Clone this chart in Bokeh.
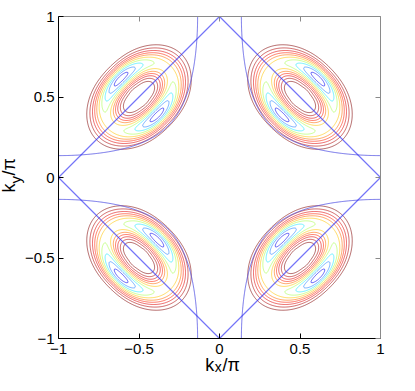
import numpy as np
from bokeh.plotting import figure
from bokeh.models import Range1d, LinearAxis, FixedTicker, Label
from bokeh.embed import file_html
from bokeh.resources import INLINE

# ---- axis ticks ----
tick_values = [-1, -0.5, 0, 0.5, 1]
tick_labels = ["\u22121", "\u22120.5", "0", "0.5", "1"]

# ---- ring-shaped pockets (one per quadrant) ----
pocket_cx = [-0.5, 0.5, -0.5, 0.5]
pocket_cy = [0.5, 0.5, -0.5, -0.5]
pocket_angle_deg = [45, -45, -45, 45]      # direction of the long axis
ring_semi_major = 0.248                    # ridge distance along long axis
ring_semi_minor = 0.160                    # ridge distance along short axis (blobs)
ring_width_major = 0.0667
ring_width_minor = 0.0466
ring_major_weight = 0.6                    # ridge height along long axis (short axis = 1)

contour_levels = [0.10, 0.18, 0.27, 0.36, 0.45, 0.55, 0.65, 0.75, 0.85, 0.95]
contour_colors = ["#800000", "#b00000", "#e00000", "#ff2000", "#ff6a00",
                  "#ffc400", "#a8ff50", "#20e8ff", "#2080ff", "#0000f0"]

# ---- Fermi surface: cos(kx) + cos(ky) + a*cos(kx)*cos(ky) = level ----
fs_a = -0.97
fs_level = 0.793

# ---- zone boundary (diamond) ----
zb_x = [1, 0, -1, 0, 1]
zb_y = [0, 1, 0, -1, 0]

# ---- fields on a grid ----
n = 401
gx = np.linspace(-1, 1, n)
gy = np.linspace(-1, 1, n)
X, Y = np.meshgrid(gx, gy)

field = np.zeros_like(X)
for cx, cy, ang in zip(pocket_cx, pocket_cy, pocket_angle_deg):
    t = np.deg2rad(ang)
    u = (X - cx) * np.cos(t) + (Y - cy) * np.sin(t)
    v = -(X - cx) * np.sin(t) + (Y - cy) * np.cos(t)
    rho = np.hypot(u, v)
    phi = np.arctan2(v, u)
    A, B = ring_semi_major, ring_semi_minor
    R = A * B / np.sqrt((B * np.cos(phi)) ** 2 + (A * np.sin(phi)) ** 2)
    d = rho - R
    s = ring_width_major * np.cos(phi) ** 2 + ring_width_minor * np.sin(phi) ** 2
    M = ring_major_weight + (1 - ring_major_weight) * np.sin(phi) ** 2
    field += M * np.exp(-d ** 2 / (2 * s ** 2))

ckx = np.cos(np.pi * X)
cky = np.cos(np.pi * Y)
band = ckx + cky + fs_a * ckx * cky

# ---- figure: the frame fills the canvas, axes sit at fixed data positions ----
W, H = 399, 375
fx0, fy0, fpx = 58, 16, 161          # canvas position of (-1, 1) and pixels per unit
x_lo = -1 - fx0 / fpx
x_hi = x_lo + W / fpx
y_hi = 1 + fy0 / fpx
y_lo = y_hi - H / fpx

p = figure(width=W, height=H, output_backend="svg", toolbar_location=None,
           x_range=Range1d(x_lo, x_hi), y_range=Range1d(y_lo, y_hi),
           x_axis_location=None, y_axis_location=None,
           min_border=0, min_border_left=0, min_border_right=0,
           min_border_top=0, min_border_bottom=0)
p.outline_line_color = None
p.grid.visible = False
p.background_fill_color = "white"
p.border_fill_color = "white"

p.contour(gx, gy, field, contour_levels, line_color=contour_colors,
          line_width=1.0, line_alpha=0.6)
p.contour(gx, gy, band, [fs_level, fs_level + 10], line_color=["#4444e0", None],
          line_width=1.0, line_alpha=0.75)
p.multi_line([zb_x], [zb_y], line_color="#2a2af5", line_width=1.2, line_alpha=0.65)

font = "Liberation Sans"
overrides = {v: s for v, s in zip(tick_values, tick_labels)}
empty = {v: "" for v in tick_values}

def make_axis(loc, color, labels):
    ax = LinearAxis(ticker=FixedTicker(ticks=tick_values), fixed_location=loc, bounds=(-1, 1),
                    axis_line_color=color, axis_line_width=1,
                    major_tick_line_color=color, major_tick_in=5, major_tick_out=0,
                    minor_tick_line_color=None)
    if labels:
        ax.major_label_overrides = overrides
        ax.major_label_text_font = font
        ax.major_label_text_font_size = "15px"
        ax.major_label_text_color = "black"
    else:
        ax.major_label_overrides = empty
        ax.major_label_text_font_size = "1px"
        ax.major_label_standoff = 0
    return ax

ax_b = make_axis(-1, "#000000", True)
ax_b.major_label_standoff = 5
ax_l = make_axis(-1, "#000000", True)
ax_l.major_label_standoff = 4
ax_t = make_axis(1, "#8a8a8a", False)
ax_r = make_axis(1, "#8a8a8a", False)
p.add_layout(ax_b, "below")
p.add_layout(ax_l, "left")
p.add_layout(ax_t, "above")
p.add_layout(ax_r, "right")

# ---- axis titles k_x/pi and k_y/pi ----
lab_kw = dict(text_font=font, text_color="black", text_align="left",
              text_baseline="alphabetic")
p.add_layout(Label(x=-0.089, y=-1.1615, text="k", text_font_size="18px", **lab_kw))
p.add_layout(Label(x=-0.029, y=-1.180, text="x", text_font_size="14px", **lab_kw))
p.add_layout(Label(x=0.018, y=-1.1615, text="/\u03c0", text_font_size="18px", **lab_kw))

p.add_layout(Label(x=-1.306, y=-0.093, text="k", text_font_size="18px", angle=np.pi / 2, **lab_kw))
p.add_layout(Label(x=-1.270, y=-0.037, text="y", text_font_size="15px", angle=np.pi / 2, **lab_kw))
p.add_layout(Label(x=-1.306, y=0.012, text="/\u03c0", text_font_size="18px", angle=np.pi / 2, **lab_kw))

open("out.html", "w").write(file_html(p, INLINE))
